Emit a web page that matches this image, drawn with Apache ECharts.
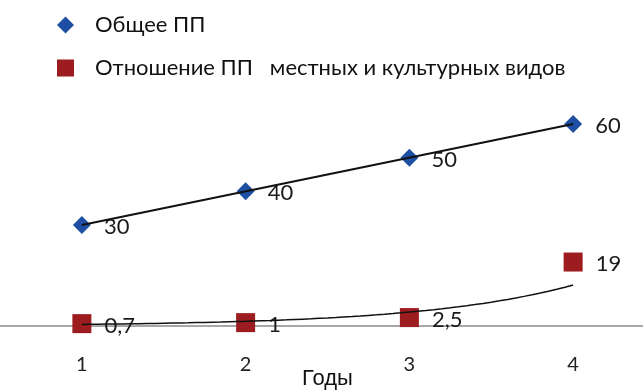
<!DOCTYPE html>
<html>
<head>
<meta charset="utf-8">
<script src="https://cdn.jsdelivr.net/npm/echarts@6/dist/echarts.min.js"></script>
<style>
  html, body { margin: 0; padding: 0; background: #fff; }
  #chart { width: 643px; height: 392px; }
</style>
</head>
<body>
<div id="chart"></div>
<script>
// Years on the horizontal axis
const years = ['1', '2', '3', '4'];
// Total value per year
const totalValues = [30, 40, 50, 60];
// Ratio of local to cultivated species
const ratioValues = [0.7, 1, 2.5, 19];
const seriesNames = ['Общее ПП', 'Отношение ПП   местных и культурных видов'];

const FONT = 'Lato, "Open Sans", sans-serif';

// Least-squares linear trend y = a + b x
function linearFit(ys) {
  const xs = ys.map((_, i) => i + 1);
  const n = xs.length;
  const mx = xs.reduce((s, v) => s + v, 0) / n;
  const my = ys.reduce((s, v) => s + v, 0) / n;
  let sxy = 0, sxx = 0;
  xs.forEach((x, i) => { sxy += (x - mx) * (ys[i] - my); sxx += (x - mx) * (x - mx); });
  const b = sxy / sxx;
  return x => my + b * (x - mx);
}
// Exponential trend y = a * e^(b x), fitted on ln(y)
function expFit(ys) {
  const lin = linearFit(ys.map(v => Math.log(v)));
  return x => Math.exp(lin(x));
}
function sampleTrend(fn, from, to, steps) {
  const pts = [];
  for (let i = 0; i <= steps; i++) {
    const x = from + (to - from) * i / steps;
    pts.push([x, fn(x)]);
  }
  return pts;
}

const totalTrend = sampleTrend(linearFit(totalValues), 1, years.length, 2);
const ratioTrend = sampleTrend(expFit(ratioValues), 1, years.length, 60);

const labelCommon = {
  show: true,
  position: 'right',
  distance: 13,
  offset: [0, 2],
  color: '#1a1a1a',
  fontFamily: FONT,
  fontSize: 22,
  formatter: p => String(p.value).replace('.', ',')
};

const chart = echarts.init(document.getElementById('chart'), null, { renderer: 'canvas' });
chart.setOption({
  backgroundColor: '#fff',
  animation: false,
  legend: {
    orient: 'vertical',
    left: 52,
    top: 9,
    itemGap: 21,
    itemWidth: 17,
    itemHeight: 17,
    textStyle: { fontFamily: FONT, fontSize: 22, color: '#111', padding: [0, 0, 0, 16] },
    data: [
      { name: seriesNames[0], icon: 'diamond', itemStyle: { color: '#1e4fa2' } },
      { name: seriesNames[1], icon: 'rect', itemStyle: { color: '#9c1c1f' } }
    ]
  },
  grid: { left: 0, width: 655, top: 124, bottom: 66, containLabel: false, outerBoundsMode: 'none' },
  xAxis: [
    {
      type: 'category',
      data: years,
      boundaryGap: true,
      axisLine: { lineStyle: { color: '#8a8a8a', width: 1.5 } },
      axisTick: { show: false },
      axisLabel: { margin: 29, fontFamily: FONT, fontSize: 20, color: '#222' },
      name: 'Годы',
      nameLocation: 'middle',
      nameGap: 42,
      nameMoveOverlap: false,
      nameTextStyle: { fontFamily: '"Liberation Sans", Arial, sans-serif', fontSize: 22, color: '#111' }
    },
    { type: 'value', min: 0.5, max: 4.5, show: false }
  ],
  yAxis: {
    type: 'value', min: 0, max: 60, show: false,
    splitLine: { show: false }
  },
  series: [
    {
      name: 'trend-total', type: 'line', xAxisIndex: 1, data: totalTrend,
      showSymbol: false, silent: true,
      lineStyle: { color: '#111', width: 2 }, z: 3
    },
    {
      name: 'trend-ratio', type: 'line', xAxisIndex: 1, data: ratioTrend,
      showSymbol: false, silent: true,
      lineStyle: { color: '#111', width: 1.5 }, z: 3
    },
    {
      name: seriesNames[0], type: 'scatter', data: totalValues,
      symbol: 'diamond', symbolSize: [18, 18],
      itemStyle: { color: '#1e4fa2', opacity: 1 },
      label: labelCommon, z: 2
    },
    {
      name: seriesNames[1], type: 'scatter', data: ratioValues,
      symbol: 'rect', symbolSize: [19, 19],
      itemStyle: { color: '#9c1c1f', opacity: 1 },
      label: labelCommon, z: 2
    }
  ]
});
</script>
</body>
</html>
